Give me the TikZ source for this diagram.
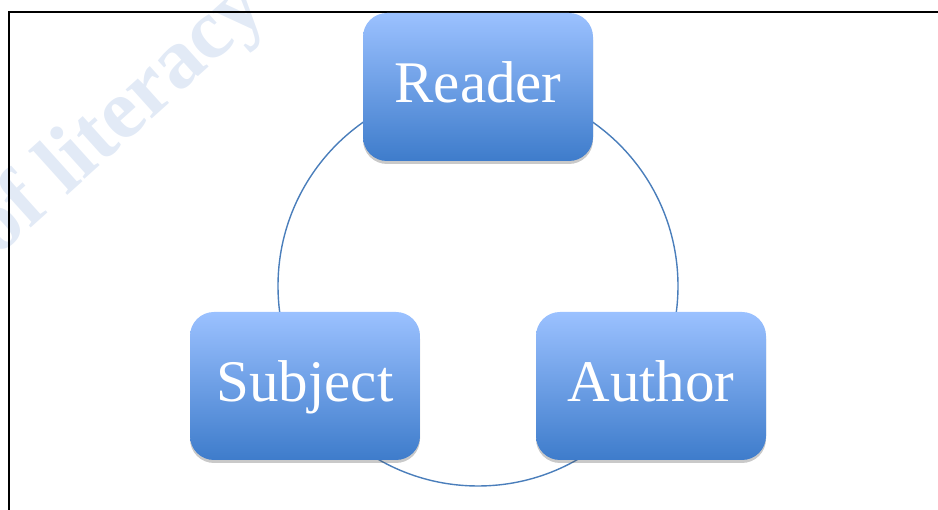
\documentclass[tikz,border=0pt]{standalone}
\usepackage{fontspec}
\setmainfont{Liberation Serif}
\usetikzlibrary{shadows}
\definecolor{boxtop}{RGB}{155,193,255}
\definecolor{boxbot}{RGB}{62,124,203}
\definecolor{ringcol}{RGB}{74,126,187}
\definecolor{wmark}{RGB}{226,234,246}
\tikzset{
  role/.style={rounded corners=24pt, minimum width=230pt, minimum height=148pt,
    top color=boxtop, bottom color=boxbot, text=white, inner sep=0pt,
    text height=45pt, text depth=13pt,
    font=\fontsize{59}{62}\selectfont,
    drop shadow={shadow xshift=0pt, shadow yshift=-3pt, opacity=0.3, fill=black!70}},
  ring/.style={draw=ringcol, line width=1.4pt},
  frame/.style={draw=black, line width=1.6pt}
}
\begin{document}
\begin{tikzpicture}[x=1pt,y=1pt]
\useasboundingbox (0,0) rectangle (938,510);
\clip (0,0) rectangle (938,510);
\node[text=wmark, font=\bfseries\fontsize{85}{88}\selectfont, rotate=42, anchor=base west] (wm) at (-5,250) {of literacy};
\draw[frame] (9,-2) -- (9,498) -- (940,498);
\coordinate (c) at (478,224);
\draw[ring] (c) circle[radius=200pt];
\node[role] (reader) at (478,423) {Reader};
\node[role] (subject) at (305,124) {Subject};
\node[role] (author) at (651,124) {Author};
\end{tikzpicture}
\end{document}
